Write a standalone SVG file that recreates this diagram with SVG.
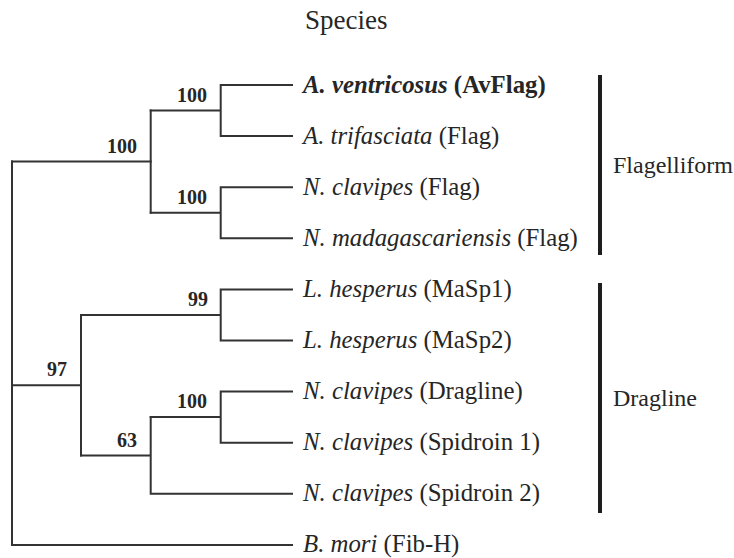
<svg xmlns="http://www.w3.org/2000/svg" width="734" height="558" viewBox="0 0 734 558">
  <style>
    text { font-family: "Liberation Serif", "Times New Roman", serif; fill: #262626; }
    .leaf { font-size: 24.8px; }
    .sp { font-style: italic; }
    .hl { font-weight: bold; }
    .boot { font-size: 20px; font-weight: bold; text-anchor: end; }
    .clade { font-size: 24px; }
    .title { font-size: 27px; }
    .branch { fill: none; stroke: #333; stroke-width: 2; stroke-linecap: square; }
    .bar { stroke: #1e1e1e; stroke-width: 4; }
  </style>
  <rect width="734" height="558" fill="#fff"/>

  <text id="title" class="title" x="305" y="28.5">Species</text>

  <!-- tree branches -->
  <g id="connectors" class="branch">
    <!-- root -->
    <path d="M12 161.6 V544.9 H292"/>
    <!-- Flagelliform clade -->
    <path d="M12 161.6 H150.7"/>
    <path d="M150.7 110.5 V212.7"/>
    <path d="M150.7 110.5 H220.7 M220.7 85 V136.1 M220.7 85 H292 M220.7 136.1 H292"/>
    <path d="M150.7 212.7 H220.7 M220.7 187.2 V238.3 M220.7 187.2 H292 M220.7 238.3 H292"/>
    <!-- Dragline clade -->
    <path d="M12 385.2 H81 M81 315 V455.5"/>
    <path d="M81 315 H220.7 M220.7 289.4 V340.5 M220.7 289.4 H292 M220.7 340.5 H292"/>
    <path d="M81 455.5 H150.7 M150.7 417.1 V493.8 M150.7 493.8 H292"/>
    <path d="M150.7 417.1 H220.7 M220.7 391.6 V442.7 M220.7 391.6 H292 M220.7 442.7 H292"/>
  </g>

  <!-- bootstrap support values -->
  <g id="support">
    <text class="boot" x="207" y="101.5">100</text>
    <text class="boot" x="137" y="152.6">100</text>
    <text class="boot" x="207" y="203.7">100</text>
    <text class="boot" x="208" y="306">99</text>
    <text class="boot" x="67" y="376.2">97</text>
    <text class="boot" x="207" y="408.1">100</text>
    <text class="boot" x="137" y="446.5">63</text>
  </g>

  <!-- leaves -->
  <g id="leaf-avflag"><text class="leaf hl" x="303" y="92.5"><tspan class="sp">A. ventricosus</tspan> (AvFlag)</text></g>
  <g id="leaf-atri"><text class="leaf" x="303" y="143.6"><tspan class="sp">A. trifasciata</tspan> (Flag)</text></g>
  <g id="leaf-nclav-flag"><text class="leaf" x="303" y="194.7"><tspan class="sp">N. clavipes</tspan> (Flag)</text></g>
  <g id="leaf-nmad"><text class="leaf" x="303" y="245.8"><tspan class="sp">N. madagascariensis</tspan> (Flag)</text></g>
  <g id="leaf-lhes1"><text class="leaf" x="303" y="296.9"><tspan class="sp">L. hesperus</tspan> (MaSp1)</text></g>
  <g id="leaf-lhes2"><text class="leaf" x="303" y="348"><tspan class="sp">L. hesperus</tspan> (MaSp2)</text></g>
  <g id="leaf-nclav-drag"><text class="leaf" x="303" y="399.1"><tspan class="sp">N. clavipes</tspan> (Dragline)</text></g>
  <g id="leaf-nclav-sp1"><text class="leaf" x="303" y="450.2"><tspan class="sp">N. clavipes</tspan> (Spidroin 1)</text></g>
  <g id="leaf-nclav-sp2"><text class="leaf" x="303" y="501.3"><tspan class="sp">N. clavipes</tspan> (Spidroin 2)</text></g>
  <g id="leaf-bmori"><text class="leaf" x="303" y="552.4"><tspan class="sp">B. mori</tspan> (Fib-H)</text></g>

  <!-- clade brackets -->
  <g id="clade-flagelliform">
    <line class="bar" x1="600" y1="75" x2="600" y2="255"/>
    <text class="clade" x="613" y="173">Flagelliform</text>
  </g>
  <g id="clade-dragline">
    <line class="bar" x1="600" y1="283" x2="600" y2="513"/>
    <text class="clade" x="613" y="406">Dragline</text>
  </g>
</svg>
